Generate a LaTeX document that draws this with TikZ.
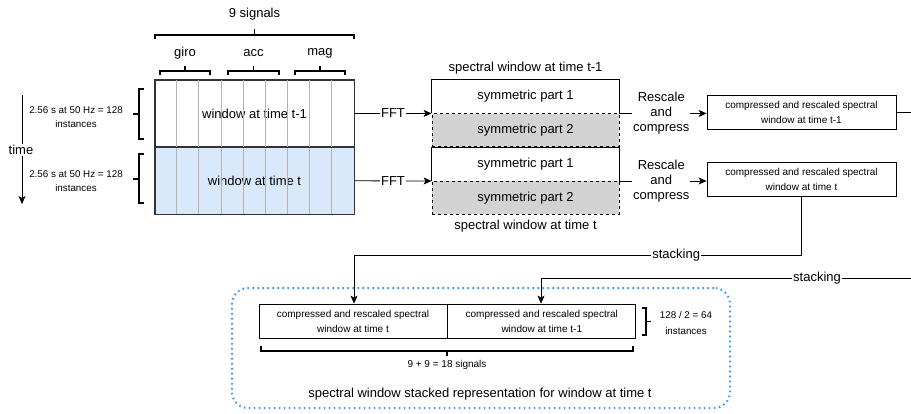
\documentclass[tikz,border=0pt]{standalone}
\usepackage{fontspec}
\setmainfont{Liberation Sans}
\usetikzlibrary{positioning,arrows.meta}
\definecolor{winblue}{RGB}{218,232,252}
\definecolor{partgrey}{RGB}{211,211,211}
\definecolor{dotblue}{RGB}{51,153,255}
\begin{document}
\begin{tikzpicture}[
        x=1pt, y=-1pt,
        line width=0.8pt,
        win/.style={rectangle, draw=black!80, minimum width=199pt, minimum height=66.5pt, inner sep=0pt, font=\fontsize{13}{15}\selectfont},
        part/.style={rectangle, minimum width=187pt, minimum height=33pt, inner sep=0pt, font=\fontsize{13}{15}\selectfont},
        half/.style={part, draw, dashed, fill=partgrey},
        cbox/.style={rectangle, draw, minimum width=189pt, minimum height=33.5pt, inner sep=0pt, align=center, font=\fontsize{10}{15}\selectfont},
        sbox/.style={cbox, minimum width=188pt, minimum height=34pt},
        arrow/.style={-{Stealth[length=8pt, width=7pt, inset=2pt]}},
        brace/.style={line width=1.6pt},
        txt/.style={font=\fontsize{13}{15}\selectfont, align=center, inner sep=1pt},
        note/.style={font=\fontsize{9.8}{14}\selectfont, align=center, inner sep=1pt},
        onwire/.style={txt, fill=white}
    ]
    \useasboundingbox (0,0) rectangle (911,413);

    % Input windows
    \node[win] (win1) at (254.5,113.5) {window at time t-1};
    \node[win, fill=winblue, below=0pt of win1] (win0) {window at time t};
    \foreach \i in {1,...,8}
        \draw[black!30] ([xshift=\i*22.11pt]win1.north west) -- ([xshift=\i*22.11pt]win0.south west);
    \draw[black!80] (win1.north west) rectangle (win0.south east);
    \draw[black!80, line width=1.2pt] (win1.south west) -- (win1.south east);

    % Signal braces
    \node[txt] (signals) at (254.5,14) {9 signals};
    \draw[brace] (155,39) -- (155,35) -- (354,35) -- (354,39);
    \draw[brace] (254.5,35) -- (254.5,29);
    \foreach \name/\a/\b in {giro/160/210, acc/228/279, mag/295/345} {
        \draw[brace] (\a,75) -- (\a,71) -- (\b,71) -- (\b,75);
        \draw[brace] ({(\a+\b)/2},71) -- ({(\a+\b)/2},66);
        \node[txt] (\name) at ({(\a+\b)/2},53) {\name};
    }

    % Time axis and instance brackets
    \coordinate (time-start) at (22,95);
    \coordinate (time-end) at (22,204);
    \draw[arrow] (time-start) -- (time-end);
    \node[txt, fill=white] (time) at (21,150) {time};
    \node[note] (inst1) at (76,117) {2.56 s at 50 Hz = 128\\instances};
    \node[note] (inst0) at (76,181.5) {2.56 s at 50 Hz = 128\\instances};
    \draw[brace] (144,89) -- (139,89) -- (139,139) -- (144,139);
    \draw[brace] (139,114) -- (133,114);
    \draw[brace] (144,154) -- (139,154) -- (139,203) -- (144,203);
    \draw[brace] (139,179) -- (133,179);

    % Spectral windows
    \node[part] (spec1a) at (525.5,96.5) {symmetric part 1};
    \node[half, below=0pt of spec1a] (spec1b) {symmetric part 2};
    \node[part, below=0pt of spec1b] (spec0a) {symmetric part 1};
    \node[half, below=0pt of spec0a] (spec0b) {symmetric part 2};
    \draw (spec1a.south west) -- (spec1a.north west) -- (spec1a.north east) -- (spec1a.south east);
    \draw (spec0a.south west) -- (spec0a.north west) -- (spec0a.north east) -- (spec0a.south east);
    \node[txt, above=4pt of spec1a] (spec1-label) {spectral window at time t-1};
    \node[txt, below=4pt of spec0b] (spec0-label) {spectral window at time t};

    \draw[arrow] (win1.east) -- node[onwire] {FFT} (spec1a.south west);
    \draw[arrow] (win0.east) -- node[onwire] {FFT} (spec0a.south west);

    % Compressed windows
    \node[cbox] (cbox1) at (801.5,112.5) {compressed and rescaled spectral\\window at time t-1};
    \node[cbox] (cbox0) at (801.5,179.5) {compressed and rescaled spectral\\window at time t};
    \draw[arrow] (spec1a.south east) -- node[onwire, pos=0.48] {Rescale\\and\\compress} (cbox1.west |- spec1a.south);
    \draw[arrow] (spec0a.south east) -- node[onwire, pos=0.48] {Rescale\\and\\compress} (cbox0.west |- spec0a.south);

    % Stacked representation
    \node[sbox] (st0) at (353,321) {compressed and rescaled spectral\\window at time t};
    \node[sbox, right=0pt of st0] (st1) {compressed and rescaled spectral\\window at time t-1};

    \coordinate (edge0) at (911,112.5);
    \coordinate (edge1) at (911,278);
    \coordinate (stack0) at (354,255);
    \coordinate (stack1) at (541,278);
    \draw (cbox1.east) -- (edge0);
    \draw[arrow] (cbox0.south) |- node[onwire, pos=0.64] {stacking} (stack0) -- (st0.north -| stack0);
    \draw[arrow] (edge1) -- node[onwire, pos=0.254] {stacking} (stack1) -- (st1.north -| stack1);

    \draw[brace] (642,308) -- (646,308) -- (646,335) -- (642,335);
    \draw[brace] (646,321.5) -- (651,321.5);
    \node[note, font=\fontsize{9.8}{16}\selectfont] (half-inst) at (686,323) {128 / 2 = 64\\instances};
    \draw[brace] (261,346) -- (261,351) -- (633,351) -- (633,346);
    \draw[brace] (447,351) -- (447,356);
    \node[note, font=\fontsize{10}{12}\selectfont] (all-signals) at (447,365) {9 + 9 = 18 signals};

    \node[rectangle, rounded corners=16pt, draw=dotblue, line width=2pt, dash pattern=on 1.6pt off 3.4pt,
        minimum width=498pt, minimum height=120pt] (stack-box) at (481,348) {};
    \node[txt] (stack-label) at (480,394) {spectral window stacked representation for window at time t};

\end{tikzpicture}
\end{document}
